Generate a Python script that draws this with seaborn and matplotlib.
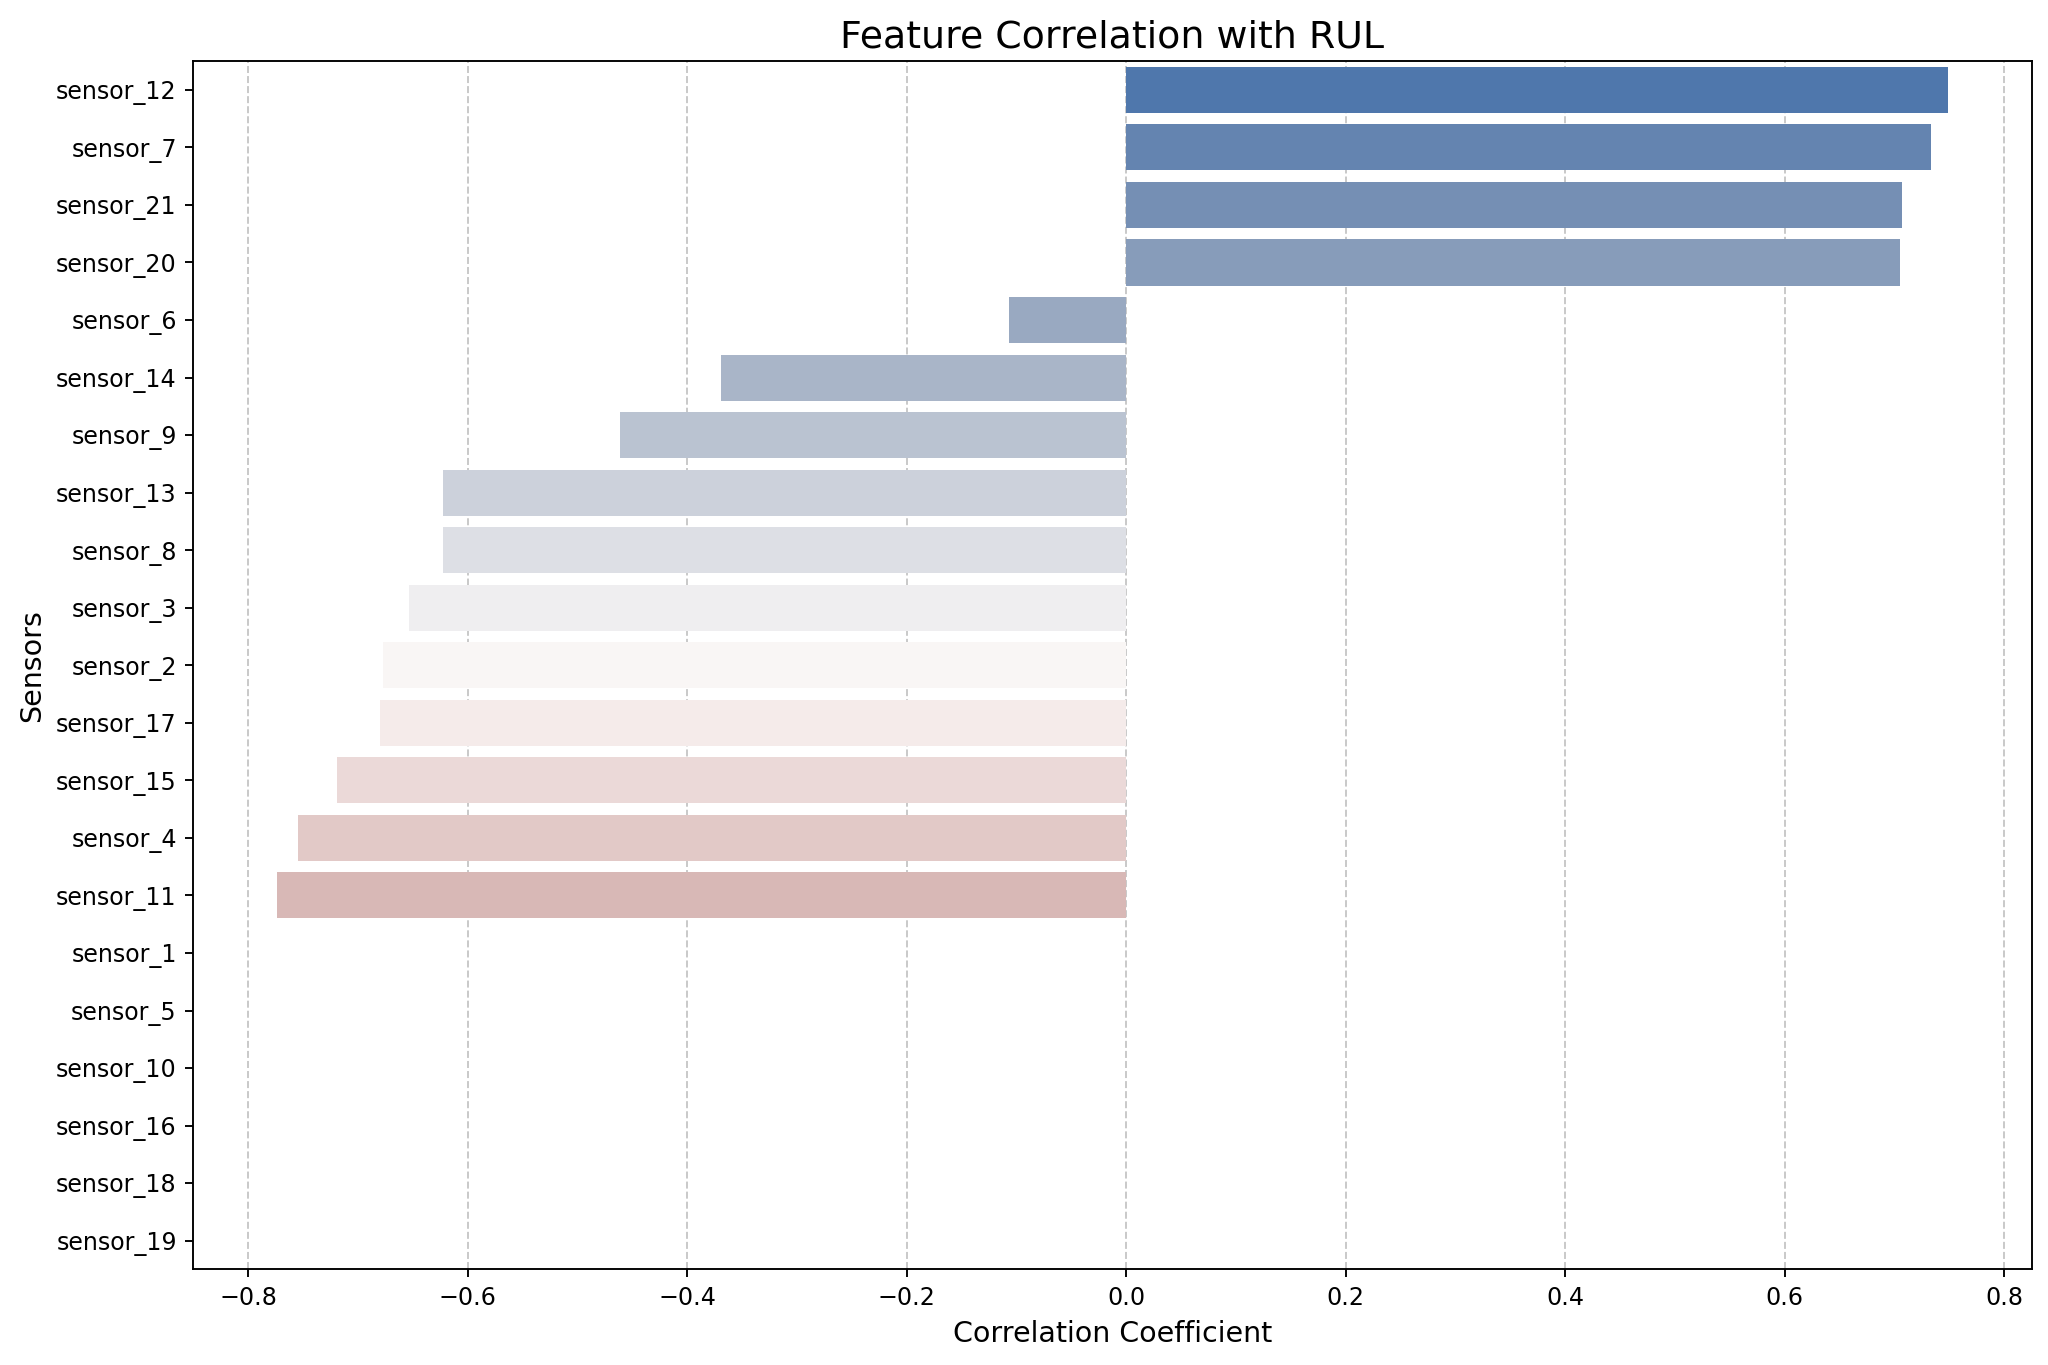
import matplotlib
matplotlib.use('Agg')
import matplotlib.pyplot as plt
import numpy as np
import pandas as pd
import seaborn as sns

# sensores em ordem de correlação (os últimos não têm valor)
sensors = ['sensor_12', 'sensor_7', 'sensor_21', 'sensor_20', 'sensor_6', 'sensor_14',
           'sensor_9', 'sensor_13', 'sensor_8', 'sensor_3', 'sensor_2', 'sensor_17',
           'sensor_15', 'sensor_4', 'sensor_11', 'sensor_1', 'sensor_5', 'sensor_10',
           'sensor_16', 'sensor_18', 'sensor_19']
correlation = [0.749, 0.733, 0.707, 0.705, -0.107, -0.369, -0.461, -0.623, -0.623,
               -0.654, -0.677, -0.680, -0.719, -0.755, -0.774,
               np.nan, np.nan, np.nan, np.nan, np.nan, np.nan]

df = pd.DataFrame({'sensor': sensors, 'corr': correlation})

fig, ax = plt.subplots(figsize=(12, 8))
sns.barplot(x='corr', y='sensor', data=df, hue='sensor', palette='vlag', legend=False, ax=ax)
ax.set_title('Feature Correlation with RUL', fontsize=16)
ax.set_xlabel('Correlation Coefficient', fontsize=12)
ax.set_ylabel('Sensors', fontsize=12)
ax.grid(axis='x', linestyle='--', alpha=0.7)
ax.set_axisbelow(True)
fig.subplots_adjust(left=0.0944, right=0.992, top=0.955, bottom=0.070)
fig.savefig('out.png', dpi=2048 / 12)
